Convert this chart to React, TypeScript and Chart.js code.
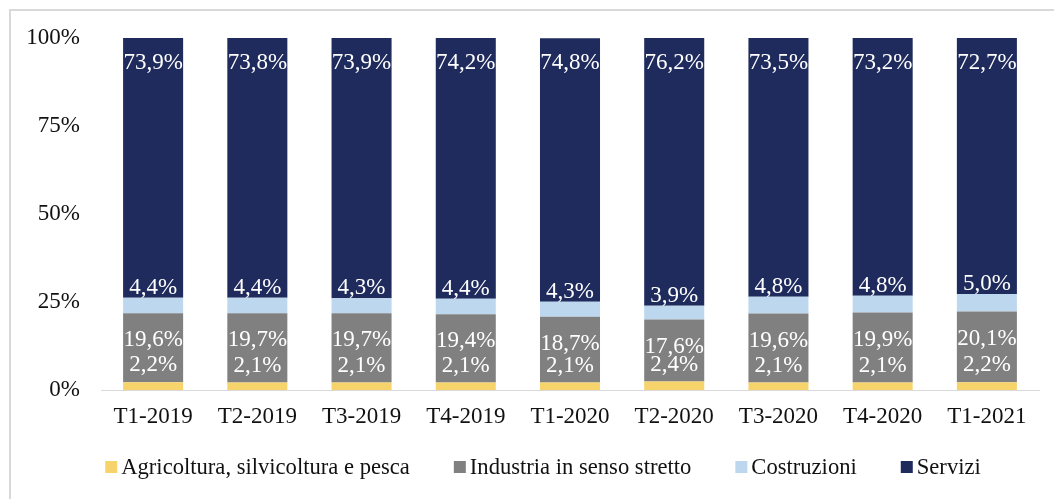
import { useEffect, useRef } from 'react';
import { Chart, registerables } from 'chart.js';

Chart.register(...registerables);

const categories = ['T1-2019', 'T2-2019', 'T3-2019', 'T4-2019', 'T1-2020', 'T2-2020', 'T3-2020', 'T4-2020', 'T1-2021'];
const seriesNames = ['Agricoltura, silvicoltura e pesca', 'Industria in senso stretto', 'Costruzioni', 'Servizi'];
const agricoltura = [2.2, 2.1, 2.1, 2.1, 2.1, 2.4, 2.1, 2.1, 2.2];
const industria = [19.6, 19.7, 19.7, 19.4, 18.7, 17.6, 19.6, 19.9, 20.1];
const costruzioni = [4.4, 4.4, 4.3, 4.4, 4.3, 3.9, 4.8, 4.8, 5.0];
const servizi = [73.9, 73.8, 73.9, 74.2, 74.8, 76.2, 73.5, 73.2, 72.7];
const yTicks = [0, 25, 50, 75, 100];

const seriesColors = ['#F7D36C', '#808080', '#BDD7EE', '#1F2B5C'];
const FONT = "'Liberation Serif', 'Times New Roman', serif";

const fmt = (v: number) => v.toFixed(1).replace('.', ',') + '%';

const framePlugin = {
  id: 'frame',
  beforeDraw(chart: any) {
    const { ctx, width, height } = chart;
    ctx.save();
    ctx.fillStyle = '#ffffff';
    ctx.fillRect(0, 0, width, height);
    ctx.strokeStyle = '#D9D9D9';
    ctx.lineWidth = 2;
    ctx.beginPath();
    ctx.moveTo(10, height + 2);
    ctx.lineTo(10, 10);
    ctx.lineTo(width + 2, 10);
    ctx.stroke();
    ctx.restore();
  },
};

const labelPlugin = {
  id: 'segLabels',
  afterDatasetsDraw(chart: any) {
    const { ctx } = chart;
    const offsets = [-17, 27, -10, 25];
    ctx.save();
    ctx.font = `23px ${FONT}`;
    ctx.fillStyle = '#ffffff';
    ctx.textAlign = 'center';
    ctx.textBaseline = 'middle';
    chart.data.datasets.forEach((ds: any, di: number) => {
      const meta = chart.getDatasetMeta(di);
      meta.data.forEach((bar: any, i: number) => {
        const top = Math.min(bar.y, bar.base);
        const y = Math.max(top, chart.chartArea.top) + offsets[di];
        ctx.fillText(fmt(ds.data[i]), bar.x, y);
      });
    });
    ctx.restore();
  },
};

const legendPlugin = {
  id: 'customLegend',
  afterDraw(chart: any) {
    const { ctx } = chart;
    const box = 12;
    const gapText = 4;
    const gapItem = 44;
    const yc = 467;
    ctx.save();
    ctx.font = `22.6px ${FONT}`;
    ctx.textBaseline = 'middle';
    ctx.textAlign = 'left';
    const items = chart.data.datasets.map((ds: any) => ({
      text: ds.label,
      color: ds.backgroundColor,
      w: box + gapText + ctx.measureText(ds.label).width,
    }));
    const total = items.reduce((s: number, it: any) => s + it.w, 0) + gapItem * (items.length - 1);
    let x = 543 - total / 2;
    items.forEach((it: any) => {
      ctx.fillStyle = it.color;
      ctx.fillRect(x, yc - box / 2, box, box);
      ctx.fillStyle = '#111111';
      ctx.fillText(it.text, x + box + gapText, yc + 1);
      x += it.w + gapItem;
    });
    ctx.restore();
  },
};

export default function App() {
  const ref = useRef<HTMLCanvasElement | null>(null);

  useEffect(() => {
    document.body.style.margin = '0';
    const canvas = ref.current;
    if (!canvas) return;
    const seriesData = [agricoltura, industria, costruzioni, servizi];
    const chart = new Chart(canvas, {
      type: 'bar',
      data: {
        labels: categories,
        datasets: seriesNames.map((name, i) => ({
          label: name,
          data: seriesData[i],
          backgroundColor: seriesColors[i],
          borderWidth: 0,
          barPercentage: 0.576,
          categoryPercentage: 1,
        })),
      },
      options: {
        responsive: false,
        animation: false,
        devicePixelRatio: 1,
        layout: { padding: { top: 38, right: 15, bottom: 69, left: 0 } },
        plugins: {
          legend: { display: false },
          title: { display: false },
          tooltip: { enabled: false },
        },
        scales: {
          x: {
            stacked: true,
            grid: { display: false, drawTicks: false },
            border: { display: true, color: '#D9D9D9', width: 1 },
            ticks: { color: '#111111', font: { family: FONT, size: 23 }, padding: 13, maxRotation: 0, autoSkip: false },
            afterFit: (s: any) => { s.height = 40; },
          },
          y: {
            stacked: true,
            min: 0,
            max: 100,
            grid: { display: false, drawTicks: false },
            border: { display: false },
            ticks: {
              color: '#111111',
              font: { family: FONT, size: 23 },
              padding: 21,
              callback: (v: any) => v + '%',
            },
            afterBuildTicks: (s: any) => { s.ticks = yTicks.map((v) => ({ value: v })); },
            afterFit: (s: any) => { s.width = 101; },
          },
        },
      },
      plugins: [framePlugin, labelPlugin, legendPlugin],
    });
    return () => chart.destroy();
  }, []);

  return <canvas ref={ref} width={1054} height={499} style={{ display: 'block', width: 1054, height: 499 }} />;
}
